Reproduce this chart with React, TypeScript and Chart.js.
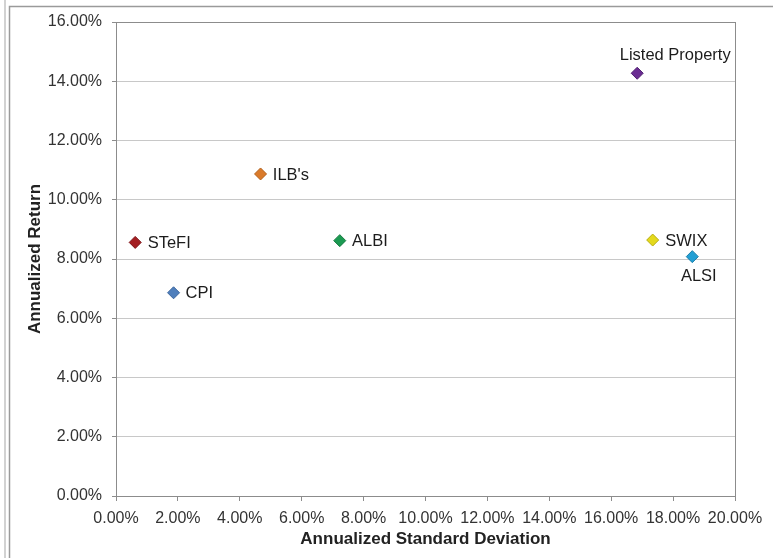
import React, { useEffect, useRef } from 'react';
import { Chart, registerables } from 'chart.js';

Chart.register(...registerables);

// ---- Data ----
const assetNames: string[] = ['STeFI', 'CPI', "ILB's", 'ALBI', 'Listed Property', 'SWIX', 'ALSI'];
const annualizedStdDev: number[] = [0.62, 1.86, 4.67, 7.23, 16.84, 17.34, 18.62];
const annualizedReturn: number[] = [8.56, 6.86, 10.87, 8.62, 14.27, 8.64, 8.08];
const xAxisMin = 0;
const xAxisMax = 20;
const xAxisStep = 2;
const yAxisMin = 0;
const yAxisMax = 16;
const yAxisStep = 2;
const xAxisTitle = 'Annualized Standard Deviation';
const yAxisTitle = 'Annualized Return';

// ---- Styles ----
const pointColors = ['#A41E22', '#4F7FBC', '#DA7A2A', '#1B9A52', '#6A2C92', '#E4D91C', '#239FD4'];
const pointBorders = ['#7E1418', '#3D679F', '#B3611C', '#137A3F', '#4F1F70', '#B8AE10', '#1A7FAA'];
// [dx, dy, align]
const labelOffsets: [number, number, CanvasTextAlign][] = [
  [12.5, 1, 'left'],
  [12, 1, 'left'],
  [12.3, 1, 'left'],
  [12.3, 1, 'left'],
  [38, -17.5, 'center'],
  [12.6, 1, 'left'],
  [6.5, 20, 'center'],
];

const FONT = "'Liberation Sans', Arial, Helvetica, sans-serif";
const AXIS_GRAY = '#8c8c8c';

const framePlugin = {
  id: 'frame',
  beforeDraw(chart: any) {
    const { ctx, width, height } = chart;
    ctx.save();
    ctx.fillStyle = '#ffffff';
    ctx.fillRect(0, 0, width, height);
    ctx.strokeStyle = '#d2d2d2';
    ctx.lineWidth = 2;
    ctx.beginPath();
    ctx.moveTo(5, 0);
    ctx.lineTo(5, height);
    ctx.stroke();
    ctx.strokeStyle = '#9a9a9a';
    ctx.lineWidth = 1.5;
    ctx.beginPath();
    ctx.moveTo(9.5, height);
    ctx.lineTo(9.5, 6.5);
    ctx.lineTo(width, 6.5);
    ctx.stroke();
    ctx.restore();
  },
  beforeDatasetsDraw(chart: any) {
    const { ctx, chartArea } = chart;
    ctx.save();
    ctx.strokeStyle = AXIS_GRAY;
    ctx.lineWidth = 1;
    const l = Math.round(chartArea.left) + 0.5;
    const t = Math.round(chartArea.top) + 0.5;
    const r = Math.round(chartArea.right) + 0.5;
    const b = Math.round(chartArea.bottom) + 0.5;
    ctx.strokeRect(l, t, r - l, b - t);
    ctx.restore();
  },
};

const pointLabelPlugin = {
  id: 'pointLabels',
  afterDatasetsDraw(chart: any) {
    const { ctx } = chart;
    const meta = chart.getDatasetMeta(0);
    ctx.save();
    ctx.font = `16.5px ${FONT}`;
    ctx.fillStyle = '#1c1c1c';
    ctx.textBaseline = 'middle';
    meta.data.forEach((el: any, i: number) => {
      const [dx, dy, align] = labelOffsets[i];
      ctx.textAlign = align;
      ctx.fillText(assetNames[i], el.x + dx, el.y + dy);
    });
    ctx.restore();
  },
};

export default function App() {
  const canvasRef = useRef<HTMLCanvasElement | null>(null);

  useEffect(() => {
    if (!canvasRef.current) return;
    const chart = new Chart(canvasRef.current, {
      type: 'scatter',
      data: {
        datasets: [
          {
            label: 'Assets',
            data: annualizedStdDev.map((x, i) => ({ x, y: annualizedReturn[i] })),
            backgroundColor: pointColors,
            borderColor: pointBorders,
            borderWidth: 1,
            pointStyle: 'rectRot',
            pointRadius: 6,
            pointHoverRadius: 6,
          },
        ],
      },
      options: {
        responsive: false,
        animation: false,
        devicePixelRatio: 1,
        layout: { padding: { top: 22, right: 38, left: 0, bottom: 0 } },
        plugins: {
          legend: { display: false },
          tooltip: { enabled: false },
          title: { display: false },
        },
        scales: {
          x: {
            type: 'linear',
            min: xAxisMin,
            max: xAxisMax,
            afterFit: (scale: any) => {
              scale.height = 62;
            },
            ticks: {
              stepSize: xAxisStep,
              color: '#333333',
              padding: 8,
              maxRotation: 0,
              font: { family: FONT, size: 16 },
              callback: (v: any) => `${Number(v).toFixed(2)}%`,
            },
            grid: {
              drawOnChartArea: false,
              drawTicks: true,
              tickLength: 5,
              tickColor: AXIS_GRAY,
            },
            border: { display: true, color: AXIS_GRAY, width: 1 },
            title: {
              display: true,
              text: xAxisTitle,
              color: '#222222',
              font: { family: FONT, size: 17, weight: 'bold' },
              padding: { top: 0, bottom: 8 },
            },
          },
          y: {
            type: 'linear',
            min: yAxisMin,
            max: yAxisMax,
            afterFit: (scale: any) => {
              scale.width = 116;
            },
            ticks: {
              stepSize: yAxisStep,
              color: '#333333',
              padding: 10,
              font: { family: FONT, size: 16 },
              callback: (v: any) => `${Number(v).toFixed(2)}%`,
            },
            grid: {
              color: '#c8c8c8',
              drawTicks: true,
              tickLength: 4,
              tickColor: AXIS_GRAY,
            },
            border: { display: true, color: AXIS_GRAY, width: 1 },
            title: {
              display: true,
              text: yAxisTitle,
              color: '#222222',
              font: { family: FONT, size: 17, weight: 'bold' },
              padding: { top: 25, bottom: 0 },
            },
          },
        },
      },
      plugins: [framePlugin, pointLabelPlugin],
    });
    return () => chart.destroy();
  }, []);

  return (
    <div style={{ position: 'absolute', left: 0, top: 0, width: 773, height: 558 }}>
      <canvas ref={canvasRef} width={773} height={558} style={{ display: 'block', width: 773, height: 558 }} />
    </div>
  );
}
